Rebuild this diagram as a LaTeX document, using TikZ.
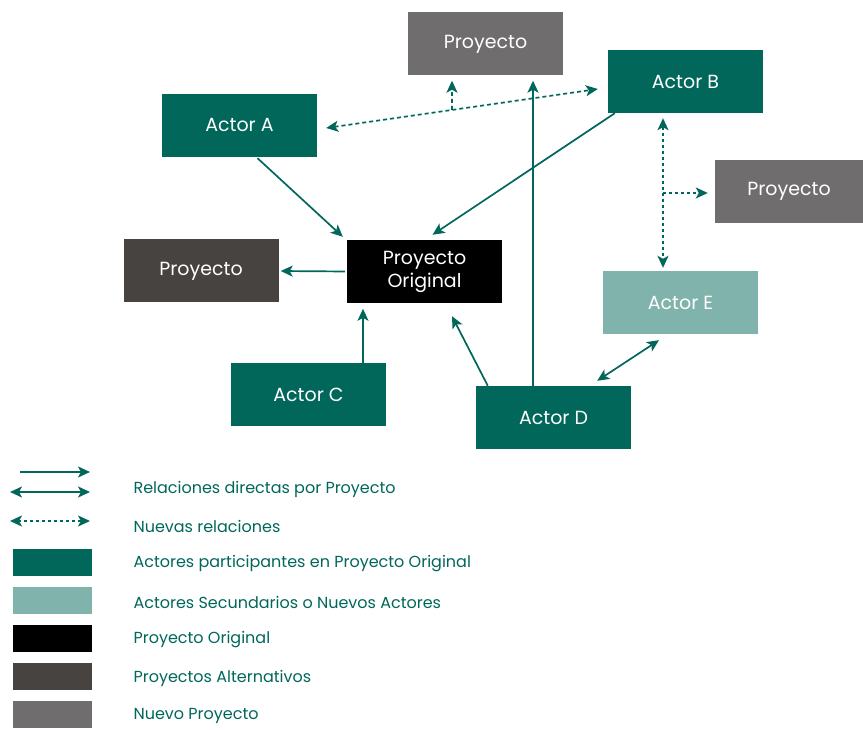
\documentclass[tikz,border=0pt]{standalone}
\usepackage{fontspec}
\setmainfont{Poppins}
\usetikzlibrary{arrows.meta,calc}
\definecolor{verde}{HTML}{00675A}
\definecolor{verdeclaro}{HTML}{80B3AB}
\definecolor{grisnuevo}{HTML}{6F6D6E}
\definecolor{grisalt}{HTML}{474341}
\begin{document}
\begin{tikzpicture}[x=1pt,y=-1pt,
	caja/.style={minimum width=155pt,minimum height=63pt,inner sep=0pt,text=white,font=\fontsize{19}{21}\selectfont,align=center},
	flecha/.style={draw=verde,line width=1.7pt,-{Stealth[length=12pt,width=11pt,inset=3pt]}},
	doble/.style={draw=verde,line width=1.7pt,{Stealth[length=12pt,width=11pt,inset=3pt]}-{Stealth[length=12pt,width=11pt,inset=3pt]}},
	nueva/.style={dash pattern=on 4pt off 3pt},
	leyenda/.style={anchor=west,text=verde,font=\fontsize{16}{18}\selectfont},
	muestra/.style={minimum width=79pt,minimum height=27pt,inner sep=0pt}]
	\useasboundingbox (0,0) rectangle (863,730);
	% cajas
	\node[caja,fill=grisnuevo] (projT) at (485.5,44) {Proyecto};
	\node[caja,fill=verde] (actB) at (685.5,81.5) {Actor B};
	\node[caja,fill=verde] (actA) at (239.5,125.5) {Actor A};
	\node[caja,fill=grisnuevo,minimum width=148pt] (projR) at (789,191.5) {Proyecto};
	\node[caja,fill=grisalt] (projL) at (201,271) {Proyecto};
	\node[caja,fill=black] (orig) at (424.5,271.5) {Proyecto\\[2pt]Original};
	\node[caja,fill=verdeclaro] (actE) at (680.5,302.5) {Actor E};
	\node[caja,fill=verde] (actC) at (308.5,394.5) {Actor C};
	\node[caja,fill=verde] (actD) at (553.5,417.5) {Actor D};
	% relaciones directas
	\draw[flecha] ($(actA.south)+(18,1)$) -- ($(orig.north west)+(-4,-3)$);
	\draw[flecha] ($(actB.south west)+(7,0)$) -- ($(orig.north)+(8,-5)$);
	\draw[flecha,shorten <=2pt,shorten >=2pt] (orig.west) -- (projL.east);
	\draw[flecha] ($(actC.north)+(54.5,0)$) -- ($(actC.north)+(54.5,-54)$);
	\draw[flecha] ($(actD.north west)+(12,0)$) -- ($(orig.south)+(27.5,13)$);
	\draw[flecha] ($(actD.north)+(-20.5,0)$) -- ($(projT.south)+(47.5,5)$);
	\draw[doble] ($(actD.north east)+(-34,-5)$) -- ($(actE.south)+(-21.5,6)$);
	% nuevas relaciones
	\draw[doble,nueva] ($(actA.east)+(9,2.5)$) -- coordinate[pos=0.463] (ab) ($(actB.west)+(-10,7.5)$);
	\draw[flecha,nueva] (ab) -- ($(projT.south)+(-33.5,5)$);
	\draw[doble,nueva,dash pattern=on 3pt off 3pt] ($(actB.south)+(-22.5,5)$) -- coordinate[pos=0.5] (be) ($(actE.north)+(-17.5,-3)$);
	\draw[flecha,nueva,dash pattern=on 3pt off 3pt,shorten >=7pt] (be) -- (be -| projR.west);
	% leyenda
	\coordinate (l1a) at (20,472); \coordinate (l1b) at (90,472);
	\coordinate (l2a) at (10,492); \coordinate (l2b) at (90,492);
	\coordinate (l3a) at (10,521); \coordinate (l3b) at (90,521);
	\draw[flecha] (l1a) -- (l1b);
	\draw[doble] (l2a) -- (l2b);
	\draw[doble,nueva,dash pattern=on 3pt off 3pt] (l3a) -- (l3b);
	\node[leyenda] (t1) at (130,489) {Relaciones directas por Proyecto};
	\node[leyenda] (t2) at (130,526) {Nuevas relaciones};
	\node[muestra,fill=verde] (m1) at (52.5,562.5) {};
	\node[muestra,fill=verdeclaro] (m2) at (52.5,600.5) {};
	\node[muestra,fill=black] (m3) at (52.5,638.5) {};
	\node[muestra,fill=grisalt] (m4) at (52.5,676.5) {};
	\node[muestra,fill=grisnuevo] (m5) at (52.5,714.5) {};
	\node[leyenda] (t3) at (130,564) {Actores participantes en Proyecto Original};
	\node[leyenda] (t4) at (130,602) {Actores Secundarios o Nuevos Actores};
	\node[leyenda] (t5) at (130,640) {Proyecto Original};
	\node[leyenda] (t6) at (130,678) {Proyectos Alternativos};
	\node[leyenda] (t7) at (130,716) {Nuevo Proyecto};
\end{tikzpicture}
\end{document}
